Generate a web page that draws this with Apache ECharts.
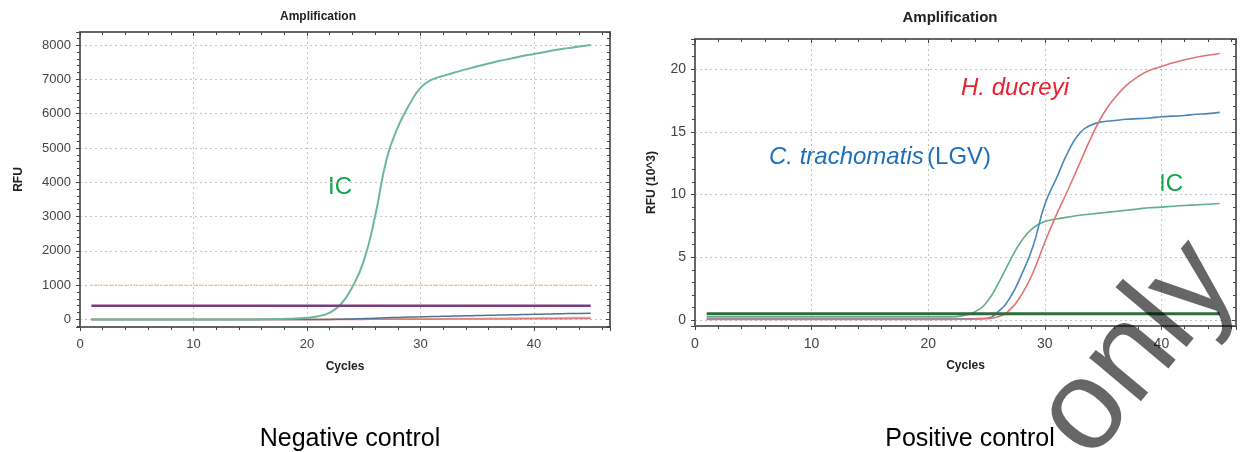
<!DOCTYPE html>
<html>
<head>
<meta charset="utf-8">
<title>Amplification</title>
<script src="https://cdn.jsdelivr.net/npm/echarts@6/dist/echarts.min.js"></script>
<style>
  html, body { margin: 0; padding: 0; background: #fff; }
  #chart { width: 1244px; height: 452px; }
</style>
</head>
<body>
<div id="chart"></div>
<script>
// cycle numbers, shared by both runs
const cycles = [1, 2, 3, 4, 5, 6, 7, 8, 9, 10, 11, 12, 13, 14, 15, 16, 17, 18, 19, 20,
  21, 22, 23, 24, 25, 26, 27, 28, 29, 30, 31, 32, 33, 34, 35, 36, 37, 38, 39, 40,
  41, 42, 43, 44, 45]

// negative control, RFU
const negIC = [0, 0, 0, 0, 0, 0, 0, 0, 0, 0, 0, 0, 0, 0, 0, 5, 10, 18, 30, 50,
  95, 200, 450, 950, 1700, 3000, 4650, 5600, 6250, 6750, 6990, 7100, 7200, 7290, 7380, 7460, 7540, 7610, 7680, 7740,
  7800, 7860, 7910, 7960, 8000]
const negBlue = [0, 0, 0, 0, 0, 0, 0, 0, 0, 0, 0, 0, 0, 0, 0, 0, 0, 0, 0, 0,
  0, 0, 5, 15, 25, 38, 50, 60, 70, 78, 86, 93, 100, 107, 114, 121, 128, 135, 142, 149,
  156, 163, 170, 177, 184]
const negOrange = [0, 0, 0, 0, 0, 0, 0, 0, 0, 0, 0, 0, 0, 0, 0, 0, 0, 0, 0, 0,
  2, 4, 6, 8, 10, 12, 14, 16, 18, 20, 22, 24, 26, 28, 30, 33, 36, 39, 42, 45,
  48, 51, 54, 57, 60]
const negRed = [0, 0, 0, 0, 0, 0, 0, 0, 0, 0, 0, 0, 0, 0, 0, 0, 0, 0, 0, 0,
  0, 0, 0, 0, 2, 3, 4, 6, 7, 8, 9, 10, 11, 12, 13, 14, 15, 16, 17, 18,
  20, 22, 24, 26, 28]
const negThreshold = 400
const negRefLine = 1000

// positive control, RFU (10^3)
const posHd = [0.05, 0.05, 0.05, 0.05, 0.05, 0.05, 0.05, 0.05, 0.05, 0.05, 0.05, 0.05, 0.05, 0.05, 0.05, 0.05, 0.05, 0.05, 0.05, 0.05,
  0.05, 0.05, 0.06, 0.08, 0.1, 0.25, 0.8, 2.0, 3.8, 6.2, 8.4, 10.4, 12.5, 14.6, 16.4, 17.7, 18.7, 19.4, 19.9, 20.2,
  20.5, 20.75, 20.95, 21.1, 21.25]
const posCt = [0.08, 0.08, 0.08, 0.08, 0.08, 0.08, 0.08, 0.08, 0.08, 0.08, 0.08, 0.08, 0.08, 0.08, 0.08, 0.08, 0.08, 0.08, 0.08, 0.08,
  0.08, 0.08, 0.08, 0.1, 0.14, 0.66, 1.75, 3.6, 5.9, 9.2, 11.3, 13.4, 14.9, 15.55, 15.8, 15.9, 16.0, 16.05, 16.1, 16.2,
  16.25, 16.3, 16.4, 16.45, 16.55]
const posIC = [0.25, 0.25, 0.25, 0.25, 0.25, 0.25, 0.25, 0.25, 0.25, 0.25, 0.25, 0.25, 0.25, 0.25, 0.25, 0.25, 0.25, 0.25, 0.25, 0.25,
  0.25, 0.25, 0.35, 0.65, 1.4, 2.9, 4.7, 6.3, 7.35, 7.85, 8.05, 8.2, 8.35, 8.45, 8.55, 8.65, 8.75, 8.85, 8.95, 9.0,
  9.07, 9.13, 9.18, 9.23, 9.28]
const posThreshold = 0.5

// labelled ticks
const xTickLabels = [0, 10, 20, 30, 40]
const negYTickLabels = [0, 1000, 2000, 3000, 4000, 5000, 6000, 7000, 8000]
const posYTickLabels = [0, 5, 10, 15, 20]

const FONT = 'Liberation Sans, Arial, Helvetica, sans-serif'

const pairs = (vals) => cycles.map((c, i) => [c, vals[i]])
const flat = (v) => cycles.map((c) => [c, v])

const frameLine = { show: true, lineStyle: { color: '#666', width: 2 } }

function mainX(grid, max, size) {
  return {
    type: 'value', gridIndex: grid, position: 'bottom', min: 0, max: max, interval: 10,
    name: 'Cycles', nameLocation: 'middle', nameGap: 34,
    nameTextStyle: { fontFamily: FONT, fontWeight: 'bold', fontSize: 12, color: '#222' },
    axisLine: { ...frameLine, onZero: false },
    axisTick: { show: true, inside: false, length: 4, lineStyle: { color: '#444' } },
    minorTick: { show: true, splitNumber: 5, length: 3, lineStyle: { color: '#444' } },
    axisLabel: {
      fontFamily: FONT, fontSize: size, color: '#444', margin: 11,
      formatter: (v) => xTickLabels.includes(v) ? String(v) : ''
    },
    splitLine: { show: true, lineStyle: { color: '#c4c4c4', type: [2, 3] } }
  }
}
function frameX(grid, max) {
  return {
    type: 'value', gridIndex: grid, position: 'top', min: 0, max: max, interval: 10,
    axisLine: { ...frameLine, onZero: false },
    axisTick: { show: true, inside: true, length: 4, lineStyle: { color: '#444' } },
    minorTick: { show: true, splitNumber: 5, length: 3, lineStyle: { color: '#444' } },
    axisLabel: { show: false }, splitLine: { show: false }
  }
}
function mainY(grid, min, max, step, labels, name, gap, size) {
  return {
    type: 'value', gridIndex: grid, position: 'left', min: min, max: max,
    minInterval: step, maxInterval: step,
    name: name, nameLocation: 'middle', nameGap: gap,
    nameTextStyle: { fontFamily: FONT, fontWeight: 'bold', fontSize: 12, color: '#222' },
    axisLine: { ...frameLine, onZero: false },
    axisTick: { show: true, inside: false, length: 4, lineStyle: { color: '#444' } },
    minorTick: { show: true, splitNumber: 5, length: 3, lineStyle: { color: '#444' } },
    axisLabel: {
      fontFamily: FONT, fontSize: size, color: '#444', margin: 9,
      formatter: (v) => labels.includes(v) ? String(v) : ''
    },
    splitLine: { show: true, lineStyle: { color: '#c4c4c4', type: [2, 3] } }
  }
}
function frameY(grid, min, max, step) {
  return {
    type: 'value', gridIndex: grid, position: 'right', min: min, max: max,
    minInterval: step, maxInterval: step,
    axisLine: { ...frameLine, onZero: false },
    axisTick: { show: true, inside: true, length: 4, lineStyle: { color: '#444' } },
    minorTick: { show: true, splitNumber: 5, length: 3, lineStyle: { color: '#444' } },
    axisLabel: { show: false }, splitLine: { show: false }
  }
}

function curve(name, x, y, vals, color, width, z) {
  return {
    name: name, type: 'line', xAxisIndex: x, yAxisIndex: y, data: pairs(vals),
    showSymbol: false, smooth: 0.5, z: z,
    lineStyle: { color: color, width: width }, silent: true
  }
}
function flatLine(name, x, y, v, color, width, type, z) {
  return {
    name: name, type: 'line', xAxisIndex: x, yAxisIndex: y, data: flat(v),
    showSymbol: false, z: z, silent: true,
    lineStyle: { color: color, width: width, type: type }
  }
}

const chart = echarts.init(document.getElementById('chart'))

const option = {
  animation: false,
  backgroundColor: '#fff',
  grid: [
    { left: 80, top: 32, width: 530, height: 295 },
    { left: 695, top: 39, width: 541, height: 287 }
  ],
  xAxis: [mainX(0, 46.7, 13), frameX(0, 46.7), mainX(1, 46.4, 14), frameX(1, 46.4)],
  yAxis: [
    mainY(0, -220, 8380, 1000, negYTickLabels, 'RFU', 55, 13),
    frameY(0, -220, 8380, 1000),
    mainY(1, -0.48, 22.4, 5, posYTickLabels, 'RFU (10^3)', 37, 14),
    frameY(1, -0.48, 22.4, 5)
  ],
  series: [
    curve('neg orange', 0, 0, negOrange, '#e9b97c', 1.5, 2),
    curve('neg red', 0, 0, negRed, '#e07a82', 1.5, 2),
    curve('neg blue', 0, 0, negBlue, '#4f7396', 1.5, 3),
    curve('IC', 0, 0, negIC, '#6cb89c', 2, 4),
    flatLine('ref', 0, 0, negRefLine, '#f2b48a', 1.5, 'dotted', 3),
    flatLine('threshold', 0, 0, negThreshold, '#7a3c7e', 2.5, 'solid', 5),

    curve('IC', 2, 2, posIC, '#5fae8c', 1.6, 3),
    curve('C. trachomatis', 2, 2, posCt, '#4a86b8', 1.6, 4),
    curve('H. ducreyi', 2, 2, posHd, '#e07474', 1.6, 4),
    flatLine('threshold', 2, 2, posThreshold, '#2f6b3c', 3, 'solid', 5)
  ],
  graphic: [
    { type: 'text', x: 318, y: 17, silent: true,
      style: { text: 'Amplification', font: 'bold 12px ' + FONT, fill: '#222', align: 'center', verticalAlign: 'middle' } },
    { type: 'text', x: 950, y: 18, silent: true,
      style: { text: 'Amplification', font: 'bold 15px ' + FONT, fill: '#222', align: 'center', verticalAlign: 'middle' } },
    { type: 'text', x: 340, y: 187, silent: true,
      style: { text: 'IC', font: '24px ' + FONT, fill: '#12a44a', align: 'center', verticalAlign: 'middle' } },
    { type: 'text', x: 1171, y: 184, silent: true,
      style: { text: 'IC', font: '24px ' + FONT, fill: '#12a44a', align: 'center', verticalAlign: 'middle' } },
    { type: 'text', x: 961, y: 88, silent: true,
      style: { text: 'H. ducreyi', font: 'italic 24px ' + FONT, fill: '#e8202f', align: 'left', verticalAlign: 'middle' } },
    { type: 'text', x: 769, y: 157, silent: true,
      style: {
        text: '{i|C. trachomatis} {n|(LGV)}', align: 'left', verticalAlign: 'middle',
        rich: {
          i: { font: 'italic 24px ' + FONT, fill: '#1d6fb8' },
          n: { font: '24px ' + FONT, fill: '#1d6fb8' }
        }
      } },
    { type: 'text', x: 350, y: 439, silent: true,
      style: { text: 'Negative control', font: '25px ' + FONT, fill: '#000', align: 'center', verticalAlign: 'middle' } },
    { type: 'text', x: 970, y: 439, silent: true,
      style: { text: 'Positive control', font: '25px ' + FONT, fill: '#000', align: 'center', verticalAlign: 'middle' } },
    { type: 'text', x: 1138, y: 350, rotation: 50 * Math.PI / 180, silent: true, z: 100,
      style: { text: 'only', font: '128px ' + FONT, fill: 'rgba(0,0,0,0.6)', align: 'center', verticalAlign: 'middle' } }
  ]
}

chart.setOption(option)

window.addEventListener('resize', () => {
  chart.resize()
})
</script>
</body>
</html>
